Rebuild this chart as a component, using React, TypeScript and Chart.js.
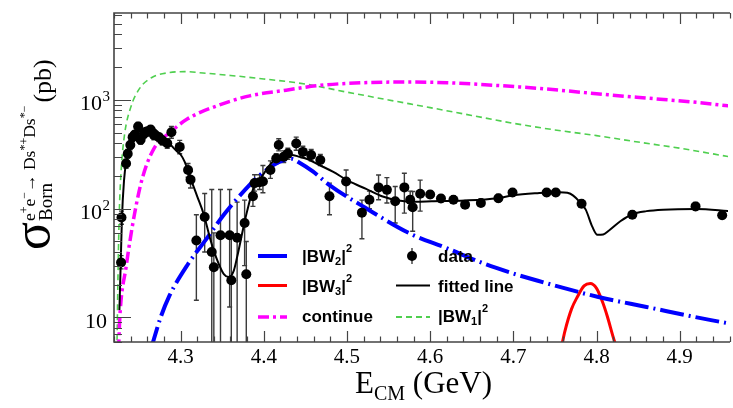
import { useEffect, useRef } from 'react';
import { Chart, registerables } from 'chart.js';

Chart.register(...registerables);

// ---------------- data ----------------
const dataE = [4.2285, 4.229, 4.2345, 4.2365, 4.2396, 4.2424, 4.245, 4.249, 4.252, 4.256, 4.26, 4.264, 4.268, 4.274, 4.278, 4.284, 4.289, 4.299, 4.309, 4.312,
  4.319, 4.329, 4.3375, 4.34, 4.348, 4.359, 4.361, 4.368, 4.377, 4.379,
  4.387, 4.389, 4.395, 4.399, 4.408, 4.415, 4.418, 4.424, 4.429, 4.439,
  4.447, 4.457, 4.468, 4.479, 4.499, 4.518, 4.527, 4.538, 4.548, 4.558,
  4.569, 4.576, 4.579, 4.588, 4.6, 4.613, 4.628, 4.642, 4.661, 4.682,
  4.699, 4.74, 4.751, 4.782, 4.843, 4.919, 4.951];
const dataSigma = [32, 83, 260, 320, 385, 455, 480, 570, 430, 490, 510, 535, 475, 455, 425, 400, 505, 370, 227, 185,
  51, 84, 40, 29, 57, 57, 22, 54, 74, 25,
  130, 172, 175, 178, 227, 290, 385, 300, 321, 397,
  333, 311, 280, 130, 178, 92, 121, 157, 149, 117,
  157, 121, 103, 137, 135, 124, 121, 109, 113, 125,
  141, 141, 141, 111, 88, 105, 87];
const dataLow = [28, 72, 235, 290, 350, 415, 440, 520, 390, 445, 465, 490, 430, 415, 385, 360, 445, 320, 195, 155,
  14.4, 40, 4, 4, 4, 12.5, 4, 4, 30, 4,
  105, 145, 150, 140, 190, 260, 340, 265, 285, 345,
  295, 275, 250, 88, 134, 53, 100, 121, 113, 74,
  91, 100, 62, 95, 125, 115, 112, 101, 105, 116,
  131, 131, 131, 103, 82, 97, 81];
const dataHigh = [37, 95, 285, 350, 420, 495, 520, 620, 470, 535, 555, 580, 520, 495, 465, 440, 570, 425, 260, 220,
  88, 138, 150, 60, 150, 150, 60, 115, 120, 50,
  160, 205, 205, 250, 275, 320, 440, 340, 360, 455,
  375, 350, 315, 172, 227, 120, 145, 204, 193, 160,
  212, 145, 144, 183, 146, 134, 131, 118, 122, 135,
  152, 152, 152, 120, 95, 114, 94];

const fitE = [4.2265, 4.228, 4.2295, 4.232, 4.235, 4.24, 4.245, 4.25, 4.256, 4.262, 4.268, 4.275, 4.285, 4.295, 4.3,
  4.305, 4.312, 4.32, 4.328, 4.335, 4.34, 4.346, 4.352, 4.358, 4.364, 4.368, 4.372, 4.376, 4.38, 4.387,
  4.393, 4.399, 4.405, 4.411, 4.423, 4.433, 4.443, 4.453, 4.467, 4.483, 4.503, 4.523, 4.542, 4.562, 4.582,
  4.602, 4.642, 4.681, 4.7, 4.729, 4.755, 4.765, 4.772, 4.78, 4.787, 4.795, 4.801, 4.808, 4.815, 4.829,
  4.843, 4.86, 4.88, 4.92, 4.96];
const fitSigma = [11.7, 30, 80, 180, 280, 390, 460, 510, 550, 560, 545, 490, 410, 340, 315,
  270, 190, 130, 88, 55, 41, 31, 25, 23.5, 27, 36, 50, 70, 95, 150,
  180, 204, 240, 270, 300, 312, 300, 285, 252, 219, 178, 152, 130, 119, 116,
  117, 119, 125, 133, 139, 142, 140, 132, 115, 98, 68, 57.5, 58, 63, 77,
  89, 95, 98, 99.5, 95];

const bw1E = [4.2235, 4.225, 4.2265, 4.229, 4.233, 4.24, 4.25, 4.265, 4.285, 4.305, 4.33, 4.36, 4.4, 4.45, 4.5, 4.55, 4.6, 4.65, 4.7, 4.75, 4.8, 4.85, 4.9, 4.96];
const bw1Sigma = [5, 30, 100, 250, 500, 850, 1250, 1600, 1780, 1820, 1760, 1680, 1560, 1400, 1180, 1000, 850, 720, 610, 530, 470, 410, 360, 300];

const contE = [4.2255, 4.227, 4.2345, 4.2445, 4.254, 4.268, 4.288, 4.308, 4.344, 4.383, 4.427, 4.463, 4.5, 4.56, 4.62, 4.68, 4.74, 4.8, 4.86, 4.92, 4.96];
const contSigma = [5, 10, 29, 88, 190, 357, 507, 667, 884, 1090, 1230, 1350, 1420, 1460, 1440, 1360, 1260, 1140, 1040, 950, 880];

const bw2E = [4.264, 4.276, 4.286, 4.309, 4.332, 4.352, 4.372, 4.391, 4.411, 4.425, 4.433, 4.443, 4.459, 4.479, 4.522, 4.578, 4.618, 4.666, 4.701, 4.721, 4.801, 4.86, 4.936, 4.96];
const bw2Sigma = [5, 10, 15.5, 31, 54, 88, 134, 190, 250, 282, 288, 265, 220, 165, 102, 58, 44, 31, 25.2, 22.7, 15.5, 12.5, 9.5, 8.8];

const bw3E = [4.757, 4.762, 4.77, 4.777, 4.785, 4.7925, 4.8, 4.807, 4.813, 4.82, 4.825];
const bw3Sigma = [5, 7.5, 12, 15.5, 19.5, 20.5, 18.5, 14, 10.2, 6.6, 5];

const xMajorTicks = [4.3, 4.4, 4.5, 4.6, 4.7, 4.8, 4.9];
const xTickLabels = ['4.3', '4.4', '4.5', '4.6', '4.7', '4.8', '4.9'];
const yMajorTicks = [10, 100, 1000];
const yTickBase = ['10', '10', '10'];
const yTickExp = ['', '2', '3'];

const X_MIN = 4.22, X_MAX = 4.958, Y_MIN = 5.95, Y_MAX = 6300;

// --------------- styling ----------------
const W = 733, H = 408;
const SERIF = '"Liberation Serif", "Times New Roman", serif';
const SANS = '"Liberation Sans", Arial, sans-serif';
const BLUE = '#0000ff', RED = '#ff0000', MAGENTA = '#ff00ff', GREEN = '#4fcf4f', BLACK = '#000000';
const BLUE_DASH = [24, 5, 2, 5];
const MAG_DASH = [11, 4, 3, 4];
const GREEN_DASH = [6, 4];

type Seg = [string, number, number];

function run(ctx: CanvasRenderingContext2D, x: number, y: number, segs: Seg[], family: string, weight = 'normal'): number {
  for (const [t, size, dy] of segs) {
    ctx.font = `${weight} ${size}px ${family}`;
    ctx.fillText(t, x, y + dy);
    x += ctx.measureText(t).width;
  }
  return x;
}

const xy = (xs: number[], ys: number[]) => xs.map((x, i) => ({ x, y: ys[i] }));

const rootPlugin = {
  id: 'rootStyle',
  beforeDatasetsDraw(chart: any) {
    const { ctx, chartArea: a, scales } = chart;
    const xs = scales.x, ys = scales.y;
    ctx.save();
    ctx.beginPath();
    ctx.rect(a.left, a.top, a.right - a.left, a.bottom - a.top);
    ctx.clip();
    ctx.strokeStyle = '#3a3a3a';
    ctx.lineWidth = 1.4;
    dataE.forEach((e, i) => {
      const px = xs.getPixelForValue(e);
      const y1 = ys.getPixelForValue(dataLow[i]);
      const y2 = ys.getPixelForValue(dataHigh[i]);
      ctx.beginPath();
      ctx.moveTo(px, y1); ctx.lineTo(px, y2);
      ctx.moveTo(px - 2.5, y1); ctx.lineTo(px + 2.5, y1);
      ctx.moveTo(px - 2.5, y2); ctx.lineTo(px + 2.5, y2);
      ctx.stroke();
    });
    ctx.restore();
  },
  afterDraw(chart: any) {
    const { ctx, chartArea: a, scales } = chart;
    const xs = scales.x, ys = scales.y;
    ctx.save();
    // frame
    ctx.strokeStyle = '#444';
    ctx.lineWidth = 1.6;
    ctx.beginPath();
    ctx.moveTo(a.right + 2, a.top); ctx.lineTo(a.left, a.top); ctx.lineTo(a.left, a.bottom); ctx.lineTo(a.right + 2, a.bottom);
    ctx.stroke();
    // x ticks
    ctx.lineWidth = 1.2;
    ctx.beginPath();
    for (let k = 211; k <= 248; k++) {
      const v = k / 50;
      const px = Math.round(xs.getPixelForValue(v)) + 0.5;
      const len = k % 5 === 0 ? 11 : 5.5;
      ctx.moveTo(px, a.bottom); ctx.lineTo(px, a.bottom - len);
      ctx.moveTo(px, a.top); ctx.lineTo(px, a.top + len);
    }
    // y ticks
    for (const d of [1, 10, 100, 1000]) {
      for (let m = 1; m <= 9; m++) {
        const v = m * d;
        if (v < Y_MIN || v > Y_MAX) continue;
        const py = Math.round(ys.getPixelForValue(v)) + 0.5;
        const len = m === 1 ? 17 : 8;
        ctx.moveTo(a.left, py); ctx.lineTo(a.left + len, py);
      }
    }
    ctx.stroke();

    // tick labels
    ctx.fillStyle = '#000';
    ctx.textBaseline = 'alphabetic';
    ctx.textAlign = 'center';
    ctx.font = `21px ${SERIF}`;
    xMajorTicks.forEach((v, i) => {
      ctx.fillText(xTickLabels[i], xs.getPixelForValue(v), 363);
    });
    ctx.textAlign = 'left';
    yMajorTicks.forEach((v, i) => {
      const py = ys.getPixelForValue(v);
      ctx.font = `22px ${SERIF}`;
      const bw = ctx.measureText(yTickBase[i]).width;
      if (yTickExp[i]) {
        const right = 102;
        ctx.fillText(yTickBase[i], right - bw, py + 10);
        ctx.font = `15px ${SERIF}`;
        ctx.fillText(yTickExp[i], right + 0.5, py + 1);
      } else {
        ctx.fillText(yTickBase[i], 107 - bw, py + 10.5);
      }
    });

    // x title
    run(ctx, 355, 393, [['E', 31, 0], ['CM', 20, 7], [' (GeV)', 31, 0]], SERIF);

    // y title (rotated)
    ctx.save();
    ctx.translate(51, 250);
    ctx.rotate(-Math.PI / 2);
    const cx = run(ctx, 0, 0, [['σ', 52, -2]], SERIF) + 1;
    const bornEnd = run(ctx, cx, 0, [['Born', 19, 1]], SERIF);
    const supEnd = run(ctx, cx, 0, [
      ['e', 17.5, -16], ['+', 12, -23], ['e', 17.5, -16], ['−', 12, -23], ['→ ', 17.5, -16],
      ['Ds', 17.5, -16], ['*+', 12, -23], ['Ds', 17.5, -16], ['*−', 12, -23]], SERIF);
    run(ctx, Math.max(bornEnd, supEnd) + 3, 0, [['(pb)', 26, 0]], SERIF);
    ctx.restore();

    // legend
    const row = [256, 285.5, 317];
    const base = [262, 291.5, 321.5];
    ctx.lineCap = 'butt';
    ctx.setLineDash([]);
    ctx.strokeStyle = BLUE; ctx.lineWidth = 4;
    ctx.beginPath(); ctx.moveTo(258, row[0]); ctx.lineTo(287, row[0]); ctx.stroke();
    ctx.strokeStyle = RED; ctx.lineWidth = 3;
    ctx.beginPath(); ctx.moveTo(258, row[1]); ctx.lineTo(287, row[1]); ctx.stroke();
    ctx.strokeStyle = MAGENTA; ctx.lineWidth = 3.5; ctx.setLineDash(MAG_DASH);
    ctx.beginPath(); ctx.moveTo(258, row[2]); ctx.lineTo(287, row[2]); ctx.stroke();
    ctx.setLineDash([]);
    ctx.strokeStyle = '#3a3a3a'; ctx.lineWidth = 1.4;
    ctx.beginPath(); ctx.moveTo(412, row[0] - 8); ctx.lineTo(412, row[0] + 8); ctx.stroke();
    ctx.fillStyle = BLACK;
    ctx.beginPath(); ctx.arc(412, row[0], 5, 0, Math.PI * 2); ctx.fill();
    ctx.strokeStyle = BLACK; ctx.lineWidth = 2;
    ctx.beginPath(); ctx.moveTo(396, row[1]); ctx.lineTo(430, row[1]); ctx.stroke();
    ctx.strokeStyle = GREEN; ctx.lineWidth = 2; ctx.setLineDash(GREEN_DASH);
    ctx.beginPath(); ctx.moveTo(396, row[2]); ctx.lineTo(430, row[2]); ctx.stroke();
    ctx.setLineDash([]);
    ctx.fillStyle = '#000';
    const bwLabel = (x: number, y: number, n: string) =>
      run(ctx, x, y, [['|BW', 17, 0], [n, 11, 3], ['|', 17, 0], ['2', 11, -10]], SANS, 'bold');
    bwLabel(302, base[0], '2');
    bwLabel(302, base[1], '3');
    run(ctx, 302, base[2], [['continue', 17, 0]], SANS, 'bold');
    run(ctx, 438, base[0], [['data', 17, 0]], SANS, 'bold');
    run(ctx, 438, base[1], [['fitted line', 17, 0]], SANS, 'bold');
    bwLabel(438, base[2], '1');
    ctx.restore();
  },
};

export default function App() {
  const ref = useRef<HTMLCanvasElement>(null);
  useEffect(() => {
    const line = (label: string, xs: number[], ys: number[], color: string, width: number, dash: number[], order: number) => ({
      label,
      data: xy(xs, ys),
      showLine: true,
      borderColor: color,
      backgroundColor: color,
      borderWidth: width,
      borderDash: dash,
      pointRadius: 0,
      cubicInterpolationMode: 'monotone' as const,
      clip: 0,
      order,
    });
    const chart = new Chart(ref.current!, {
      type: 'scatter',
      data: {
        datasets: [
          {
            label: 'data',
            data: xy(dataE, dataSigma),
            pointRadius: 5,
            pointBackgroundColor: BLACK,
            pointBorderColor: BLACK,
            pointBorderWidth: 0,
            order: 0,
          } as any,
          line('fitted line', fitE, fitSigma, BLACK, 2, [], 1),
          line('|BW2|^2', bw2E, bw2Sigma, BLUE, 4, BLUE_DASH, 2),
          line('|BW3|^2', bw3E, bw3Sigma, RED, 3, [], 3),
          line('continue', contE, contSigma, MAGENTA, 3.5, MAG_DASH, 4),
          line('|BW1|^2', bw1E, bw1Sigma, GREEN, 1.6, GREEN_DASH, 5),
        ],
      },
      options: {
        responsive: false,
        animation: false,
        devicePixelRatio: 1,
        events: [],
        layout: { padding: { left: 114, top: 13, right: 0, bottom: H - 342 } },
        scales: {
          x: { type: 'linear', min: X_MIN, max: X_MAX, display: false },
          y: { type: 'logarithmic', min: Y_MIN, max: Y_MAX, display: false },
        },
        plugins: { legend: { display: false }, tooltip: { enabled: false } },
      },
      plugins: [rootPlugin],
    });
    return () => chart.destroy();
  }, []);
  return (
    <div style={{ position: 'fixed', left: 0, top: 0, width: W, height: H, background: '#fff' }}>
      <canvas ref={ref} width={W} height={H} style={{ display: 'block', width: W, height: H }} />
    </div>
  );
}
